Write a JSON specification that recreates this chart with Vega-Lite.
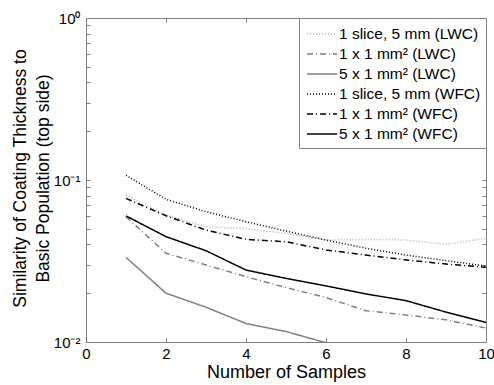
{
  "$schema": "https://vega.github.io/schema/vega-lite/v6.json",
  "width": 400,
  "height": 324,
  "autosize": {"type": "none"},
  "padding": {"left": 86, "top": 18, "right": 8, "bottom": 43},
  "background": "white",
  "config": {
    "font": "Liberation Sans",
    "view": {"stroke": "#808080", "strokeWidth": 1},
    "axis": {"grid": false, "domainColor": "#808080", "tickColor": "#808080", "labelColor": "black", "titleColor": "black", "titleFontWeight": "normal", "labelFont": "Liberation Sans", "titleFont": "Liberation Sans"}
  },
  "data": {"values": [
    {"x": 1, "v": 0.0808, "s": "1 slice, 5 mm (LWC)"},
    {"x": 2, "v": 0.0608, "s": "1 slice, 5 mm (LWC)"},
    {"x": 3, "v": 0.0515, "s": "1 slice, 5 mm (LWC)"},
    {"x": 4, "v": 0.0499, "s": "1 slice, 5 mm (LWC)"},
    {"x": 5, "v": 0.0469, "s": "1 slice, 5 mm (LWC)"},
    {"x": 6, "v": 0.0426, "s": "1 slice, 5 mm (LWC)"},
    {"x": 7, "v": 0.0430, "s": "1 slice, 5 mm (LWC)"},
    {"x": 8, "v": 0.0426, "s": "1 slice, 5 mm (LWC)"},
    {"x": 9, "v": 0.0401, "s": "1 slice, 5 mm (LWC)"},
    {"x": 10, "v": 0.0436, "s": "1 slice, 5 mm (LWC)"},
    {"x": 1, "v": 0.0594, "s": "1 x 1 mm² (LWC)"},
    {"x": 2, "v": 0.0353, "s": "1 x 1 mm² (LWC)"},
    {"x": 3, "v": 0.0299, "s": "1 x 1 mm² (LWC)"},
    {"x": 4, "v": 0.0253, "s": "1 x 1 mm² (LWC)"},
    {"x": 5, "v": 0.0217, "s": "1 x 1 mm² (LWC)"},
    {"x": 6, "v": 0.0188, "s": "1 x 1 mm² (LWC)"},
    {"x": 7, "v": 0.0156, "s": "1 x 1 mm² (LWC)"},
    {"x": 8, "v": 0.0147, "s": "1 x 1 mm² (LWC)"},
    {"x": 9, "v": 0.0137, "s": "1 x 1 mm² (LWC)"},
    {"x": 10, "v": 0.0122, "s": "1 x 1 mm² (LWC)"},
    {"x": 1, "v": 0.0333, "s": "5 x 1 mm² (LWC)"},
    {"x": 2, "v": 0.0200, "s": "5 x 1 mm² (LWC)"},
    {"x": 3, "v": 0.0164, "s": "5 x 1 mm² (LWC)"},
    {"x": 4, "v": 0.0130, "s": "5 x 1 mm² (LWC)"},
    {"x": 5, "v": 0.0116, "s": "5 x 1 mm² (LWC)"},
    {"x": 6, "v": 0.0099, "s": "5 x 1 mm² (LWC)"},
    {"x": 1, "v": 0.107, "s": "1 slice, 5 mm (WFC)"},
    {"x": 2, "v": 0.076, "s": "1 slice, 5 mm (WFC)"},
    {"x": 3, "v": 0.0637, "s": "1 slice, 5 mm (WFC)"},
    {"x": 4, "v": 0.0553, "s": "1 slice, 5 mm (WFC)"},
    {"x": 5, "v": 0.0484, "s": "1 slice, 5 mm (WFC)"},
    {"x": 6, "v": 0.0426, "s": "1 slice, 5 mm (WFC)"},
    {"x": 7, "v": 0.0379, "s": "1 slice, 5 mm (WFC)"},
    {"x": 8, "v": 0.0344, "s": "1 slice, 5 mm (WFC)"},
    {"x": 9, "v": 0.0318, "s": "1 slice, 5 mm (WFC)"},
    {"x": 10, "v": 0.0294, "s": "1 slice, 5 mm (WFC)"},
    {"x": 1, "v": 0.077, "s": "1 x 1 mm² (WFC)"},
    {"x": 2, "v": 0.0602, "s": "1 x 1 mm² (WFC)"},
    {"x": 3, "v": 0.0491, "s": "1 x 1 mm² (WFC)"},
    {"x": 4, "v": 0.0430, "s": "1 x 1 mm² (WFC)"},
    {"x": 5, "v": 0.0416, "s": "1 x 1 mm² (WFC)"},
    {"x": 6, "v": 0.0370, "s": "1 x 1 mm² (WFC)"},
    {"x": 7, "v": 0.0344, "s": "1 x 1 mm² (WFC)"},
    {"x": 8, "v": 0.0321, "s": "1 x 1 mm² (WFC)"},
    {"x": 9, "v": 0.0303, "s": "1 x 1 mm² (WFC)"},
    {"x": 10, "v": 0.0289, "s": "1 x 1 mm² (WFC)"},
    {"x": 1, "v": 0.0600, "s": "5 x 1 mm² (WFC)"},
    {"x": 2, "v": 0.0447, "s": "5 x 1 mm² (WFC)"},
    {"x": 3, "v": 0.0366, "s": "5 x 1 mm² (WFC)"},
    {"x": 4, "v": 0.0278, "s": "5 x 1 mm² (WFC)"},
    {"x": 5, "v": 0.0247, "s": "5 x 1 mm² (WFC)"},
    {"x": 6, "v": 0.0222, "s": "5 x 1 mm² (WFC)"},
    {"x": 7, "v": 0.0198, "s": "5 x 1 mm² (WFC)"},
    {"x": 8, "v": 0.0180, "s": "5 x 1 mm² (WFC)"},
    {"x": 9, "v": 0.0153, "s": "5 x 1 mm² (WFC)"},
    {"x": 10, "v": 0.0132, "s": "5 x 1 mm² (WFC)"}
  ]},
  "layer": [
    {
      "mark": {"type": "line", "clip": true},
      "encoding": {
        "x": {"field": "x", "type": "quantitative", "scale": {"domain": [0, 10], "nice": false},
          "axis": {"orient": "bottom", "values": [0, 2, 4, 6, 8, 10], "title": "Number of Samples", "tickSize": -4, "labelPadding": 8, "labelFontSize": 15, "titleFontSize": 18, "titlePadding": 2, "labelFlush": false}},
        "y": {"field": "v", "type": "quantitative", "scale": {"type": "log", "domain": [0.01, 1], "nice": false},
          "axis": {"orient": "left", "values": [0.01, 0.02, 0.03, 0.04, 0.05, 0.06, 0.07, 0.08, 0.09, 0.1, 0.2, 0.3, 0.4, 0.5, 0.6, 0.7, 0.8, 0.9, 1],
            "labelExpr": "datum.value == 1 ? '10⁰' : datum.value == 0.1 ? '10⁻¹' : datum.value == 0.01 ? '10⁻²' : ''",
            "title": ["Similarity of Coating Thickness to", "Basic Population (top side)"], "tickSize": -4, "labelPadding": 10, "labelFontSize": 15, "titleFontSize": 17.5, "titleX": -57, "titleY": 160, "titleBaseline": "bottom", "titleLineHeight": 23, "labelFlush": false}},
        "color": {"field": "s", "type": "nominal",
          "scale": {"domain": ["1 slice, 5 mm (LWC)", "1 x 1 mm² (LWC)", "5 x 1 mm² (LWC)", "1 slice, 5 mm (WFC)", "1 x 1 mm² (WFC)", "5 x 1 mm² (WFC)"],
            "range": ["#b4b4b4", "#808080", "#808080", "#000000", "#000000", "#000000"]},
          "legend": {"title": null, "orient": "top-right", "offset": 0, "strokeColor": "#808080", "fillColor": "white", "padding": 5, "labelFontSize": 15.5, "labelFont": "Liberation Sans", "labelColor": "black", "symbolType": "M-1.5,0H1.5", "symbolSize": 400, "symbolOffset": 7, "rowPadding": 0, "labelOffset": 6}},
        "strokeDash": {"field": "s", "type": "nominal",
          "scale": {"domain": ["1 slice, 5 mm (LWC)", "1 x 1 mm² (LWC)", "5 x 1 mm² (LWC)", "1 slice, 5 mm (WFC)", "1 x 1 mm² (WFC)", "5 x 1 mm² (WFC)"],
            "range": [[1, 2], [6, 3, 1, 3], [1, 0], [1, 2], [6, 3, 1, 3], [1, 0]]}},
        "strokeWidth": {"field": "s", "type": "nominal",
          "scale": {"domain": ["1 slice, 5 mm (LWC)", "1 x 1 mm² (LWC)", "5 x 1 mm² (LWC)", "1 slice, 5 mm (WFC)", "1 x 1 mm² (WFC)", "5 x 1 mm² (WFC)"],
            "range": [1.5, 1.5, 2, 1.5, 2, 2]}}
      }
    },
    {
      "mark": {"type": "line", "opacity": 0},
      "encoding": {
        "x": {"field": "x", "type": "quantitative", "axis": {"orient": "top", "values": [0, 2, 4, 6, 8, 10], "labels": false, "title": null, "tickSize": -4}},
        "y": {"field": "v", "type": "quantitative", "axis": {"orient": "right", "values": [0.01, 0.02, 0.03, 0.04, 0.05, 0.06, 0.07, 0.08, 0.09, 0.1, 0.2, 0.3, 0.4, 0.5, 0.6, 0.7, 0.8, 0.9, 1], "labels": false, "title": null, "tickSize": -4}},
        "detail": {"field": "s"}
      }
    }
  ],
  "resolve": {"axis": {"x": "independent", "y": "independent"}}
}
